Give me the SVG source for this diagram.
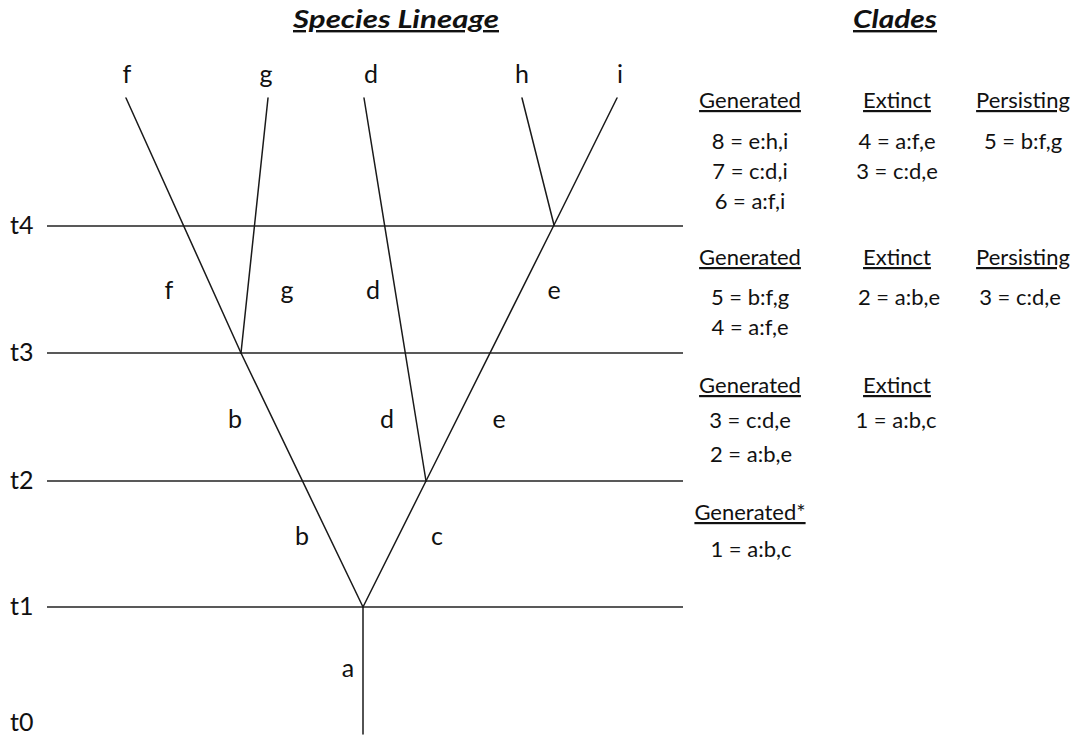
<svg xmlns="http://www.w3.org/2000/svg" width="1076" height="740" viewBox="0 0 1076 740">
<style>
.bg{fill:#fff}
.ln{stroke:#1a1a1a;stroke-width:1.5;fill:none;stroke-linecap:round}
.hl{stroke:#222;stroke-width:1.6;fill:none}
.lbl{font-family:Lato,"Open Sans","Liberation Sans",sans-serif;font-size:25px;fill:#111;text-anchor:middle}
.tl{font-family:Lato,"Open Sans","Liberation Sans",sans-serif;font-size:25px;fill:#111;text-anchor:start}
.ttl{font-family:Lato,"Open Sans","Liberation Sans",sans-serif;font-size:24px;font-weight:bold;font-style:italic;fill:#111;text-anchor:middle;text-decoration:underline}
.hd{font-family:Lato,"Open Sans","Liberation Sans",sans-serif;font-size:22px;fill:#111;text-anchor:middle;text-decoration:underline}
.en{font-family:Lato,"Open Sans","Liberation Sans",sans-serif;font-size:22px;fill:#111;text-anchor:middle}
</style>
<rect class="bg" x="0" y="0" width="1076" height="740"/>

<g id="titles">
<text class="ttl" x="396" y="28" textLength="206" lengthAdjust="spacingAndGlyphs">Species Lineage</text>
<text class="ttl" x="895" y="28" textLength="84" lengthAdjust="spacingAndGlyphs">Clades</text>
</g>

<g id="time-axis">
<line class="hl" x1="47" y1="226" x2="683" y2="226"/>
<line class="hl" x1="47" y1="353" x2="683" y2="353"/>
<line class="hl" x1="47" y1="481" x2="683" y2="481"/>
<line class="hl" x1="47" y1="607" x2="683" y2="607"/>
<text class="tl" x="10" y="234">t4</text>
<text class="tl" x="10" y="361">t3</text>
<text class="tl" x="10" y="489">t2</text>
<text class="tl" x="10" y="615">t1</text>
<text class="tl" x="10" y="731">t0</text>
</g>

<g id="connectors">
<line class="ln" x1="363" y1="734" x2="363" y2="607"/>
<line class="ln" x1="363" y1="607" x2="241" y2="353"/>
<line class="ln" x1="241" y1="353" x2="126" y2="98"/>
<line class="ln" x1="241" y1="353" x2="268" y2="98"/>
<line class="ln" x1="363" y1="607" x2="426" y2="481"/>
<line class="ln" x1="426" y1="481" x2="364" y2="98"/>
<line class="ln" x1="426" y1="481" x2="554" y2="225"/>
<line class="ln" x1="554" y1="225" x2="617" y2="98"/>
<line class="ln" x1="554" y1="225" x2="522" y2="98"/>
</g>

<g id="tip-labels">
<text class="lbl" x="127" y="83">f</text>
<text class="lbl" x="266" y="83">g</text>
<text class="lbl" x="371" y="83">d</text>
<text class="lbl" x="522" y="83">h</text>
<text class="lbl" x="620" y="83">i</text>
</g>

<g id="branch-labels">
<text class="lbl" x="169" y="299">f</text>
<text class="lbl" x="287" y="299">g</text>
<text class="lbl" x="373" y="299">d</text>
<text class="lbl" x="554" y="299">e</text>
<text class="lbl" x="235" y="428">b</text>
<text class="lbl" x="387" y="428">d</text>
<text class="lbl" x="499" y="428">e</text>
<text class="lbl" x="302" y="545">b</text>
<text class="lbl" x="437" y="545">c</text>
<text class="lbl" x="348" y="677">a</text>
</g>

<g id="clades-t4">
<text class="hd" x="750" y="108">Generated</text>
<text class="hd" x="897" y="108">Extinct</text>
<text class="hd" x="1023" y="108">Persisting</text>
<text class="en" x="750" y="149">8 = e:h,i</text>
<text class="en" x="750" y="179">7 = c:d,i</text>
<text class="en" x="750" y="209">6 = a:f,i</text>
<text class="en" x="897" y="149">4 = a:f,e</text>
<text class="en" x="897" y="179">3 = c:d,e</text>
<text class="en" x="1023" y="149">5 = b:f,g</text>
</g>

<g id="clades-t3">
<text class="hd" x="750" y="265">Generated</text>
<text class="hd" x="897" y="265">Extinct</text>
<text class="hd" x="1023" y="265">Persisting</text>
<text class="en" x="750" y="305">5 = b:f,g</text>
<text class="en" x="750" y="335">4 = a:f,e</text>
<text class="en" x="899" y="305">2 = a:b,e</text>
<text class="en" x="1020" y="305">3 = c:d,e</text>
</g>

<g id="clades-t2">
<text class="hd" x="750" y="393">Generated</text>
<text class="hd" x="897" y="393">Extinct</text>
<text class="en" x="750" y="428">3 = c:d,e</text>
<text class="en" x="751" y="462">2 = a:b,e</text>
<text class="en" x="896" y="428">1 = a:b,c</text>
</g>

<g id="clades-t1">
<text class="hd" x="750" y="520">Generated*</text>
<text class="en" x="751" y="557">1 = a:b,c</text>
</g>
</svg>
